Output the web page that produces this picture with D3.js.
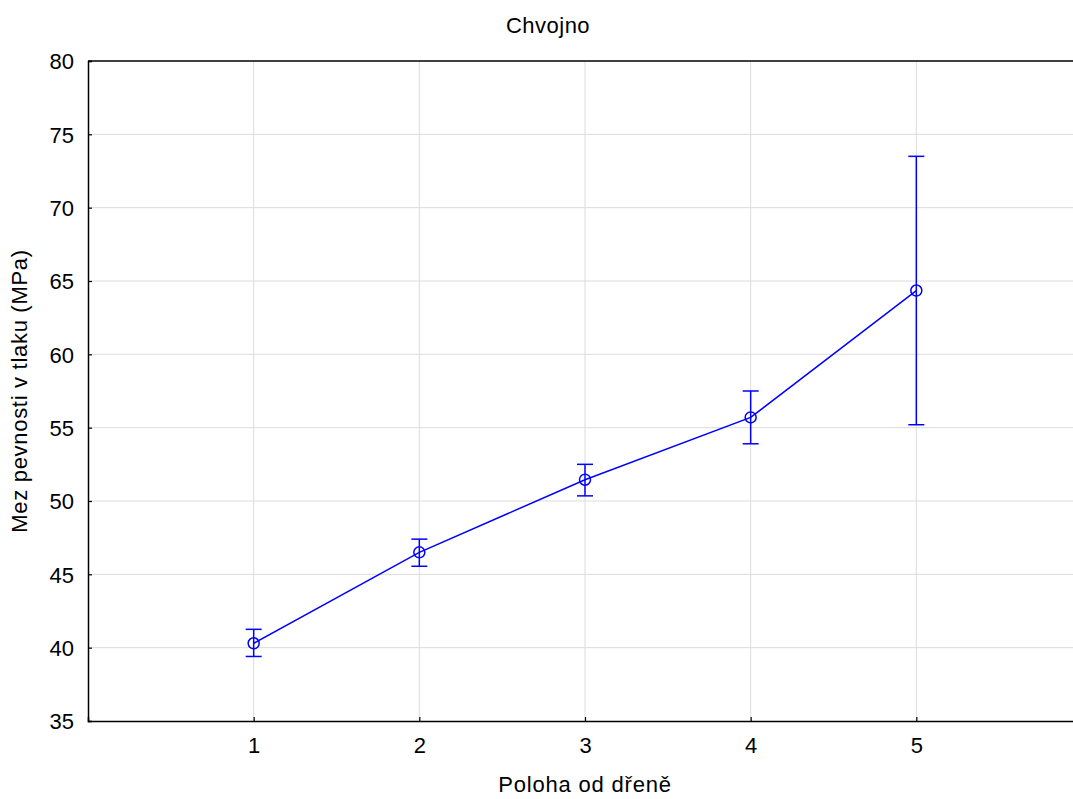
<!DOCTYPE html>
<html>
<head>
<meta charset="utf-8">
<script src="https://cdn.jsdelivr.net/npm/d3@7"></script>
<style>
  body { margin: 0; background: #fff; }
  svg { display: block; font-family: "Liberation Sans", Arial, sans-serif; }
</style>
</head>
<body>
<div id="chart"></div>
<script>
// data
let positions = [1, 2, 3, 4, 5];
let means = [40.3, 46.5, 51.45, 55.7, 64.35];
let upper = [41.25, 47.4, 52.5, 57.5, 73.5];
let lower = [39.4, 45.55, 50.35, 53.9, 55.2];
let yTicks = [35, 40, 45, 50, 55, 60, 65, 70, 75, 80];

let width = 1073, height = 799;
var margin = { top: 61, right: -9, bottom: 78, left: 88 };
var chartWidth = width - margin.left - margin.right;
var chartHeight = height - margin.top - margin.bottom;

let svg = d3.select("#chart").append("svg")
    .attr("width", width).attr("height", height);

let chartGroup = svg.append("g")
    .attr("transform", `translate(${margin.left}, ${margin.top})`);

var xScale = d3.scaleLinear().domain([0, 6]).range([0, chartWidth]);
var yScale = d3.scaleLinear().domain([35, 80]).range([chartHeight, 0]);

// grid
chartGroup.append("g").selectAll("line.gy")
    .data(yTicks.filter(d => d > 35 && d < 80)).enter().append("line")
    .attr("x1", 0).attr("x2", chartWidth)
    .attr("y1", d => yScale(d)).attr("y2", d => yScale(d))
    .attr("stroke", "#dcdcdc").attr("stroke-width", 1);
chartGroup.append("g").selectAll("line.gx")
    .data(positions).enter().append("line")
    .attr("x1", d => xScale(d)).attr("x2", d => xScale(d))
    .attr("y1", 0).attr("y2", chartHeight)
    .attr("stroke", "#dcdcdc").attr("stroke-width", 1);

// frame top
chartGroup.append("line")
    .attr("x1", 0).attr("x2", chartWidth).attr("y1", 0).attr("y2", 0)
    .attr("stroke", "#000").attr("stroke-width", 1.5);

// axes
var xAxis = d3.axisBottom(xScale).tickValues(positions).tickFormat(d3.format("d")).tickSize(-4);
var yAxis = d3.axisLeft(yScale).tickValues(yTicks).tickFormat(d3.format("d")).tickSize(-4).tickPadding(14);

let gx = chartGroup.append("g")
    .attr("transform", `translate(0, ${chartHeight})`)
    .call(xAxis);
let gy = chartGroup.append("g").call(yAxis);
[gx, gy].forEach(g => {
    g.attr("font-size", null).attr("font-family", null);
    g.select(".domain").attr("stroke", "#000").attr("stroke-width", 1.5);
    g.selectAll(".tick line").attr("stroke", "#000").attr("stroke-width", 1.2);
    g.selectAll(".tick text").attr("font-size", 22).attr("fill", "#000");
});
gx.selectAll(".tick text").attr("y", 32).attr("dy", 0);
gy.selectAll(".tick text").attr("dy", "0.36em");

// line
var line = d3.line()
    .x((d, i) => xScale(positions[i]))
    .y(d => yScale(d));
chartGroup.append("path")
    .datum(means)
    .attr("d", line)
    .attr("fill", "none")
    .attr("stroke", "#0000ff")
    .attr("stroke-width", 1.5);

// error bars
let eb = chartGroup.append("g").selectAll("g")
    .data(positions).enter().append("g");
eb.append("line")
    .attr("x1", d => xScale(d)).attr("x2", d => xScale(d))
    .attr("y1", (d, i) => yScale(upper[i])).attr("y2", (d, i) => yScale(lower[i]))
    .attr("stroke", "#0000ff").attr("stroke-width", 1.5);
eb.append("line")
    .attr("x1", d => xScale(d) - 8).attr("x2", d => xScale(d) + 8)
    .attr("y1", (d, i) => yScale(upper[i])).attr("y2", (d, i) => yScale(upper[i]))
    .attr("stroke", "#0000ff").attr("stroke-width", 1.5);
eb.append("line")
    .attr("x1", d => xScale(d) - 8).attr("x2", d => xScale(d) + 8)
    .attr("y1", (d, i) => yScale(lower[i])).attr("y2", (d, i) => yScale(lower[i]))
    .attr("stroke", "#0000ff").attr("stroke-width", 1.5);

// markers
chartGroup.append("g").selectAll("circle")
    .data(positions).enter().append("circle")
    .attr("cx", d => xScale(d))
    .attr("cy", (d, i) => yScale(means[i]))
    .attr("r", 5.5)
    .attr("fill", "none")
    .attr("stroke", "#0000ff")
    .attr("stroke-width", 1.5);

// titles
svg.append("text")
    .attr("x", 548).attr("y", 33)
    .attr("text-anchor", "middle")
    .attr("font-size", 22)
    .attr("letter-spacing", 0.5)
    .text("Chvojno");
svg.append("text")
    .attr("x", 585).attr("y", 792)
    .attr("text-anchor", "middle")
    .attr("font-size", 22)
    .attr("letter-spacing", 0.8)
    .text("Poloha od dřeně");
svg.append("text")
    .attr("transform", `translate(27, ${margin.top + chartHeight / 2}) rotate(-90)`)
    .attr("text-anchor", "middle")
    .attr("font-size", 22)
    .attr("letter-spacing", 0.7)
    .text("Mez pevnosti v tlaku (MPa)");
</script>
</body>
</html>
